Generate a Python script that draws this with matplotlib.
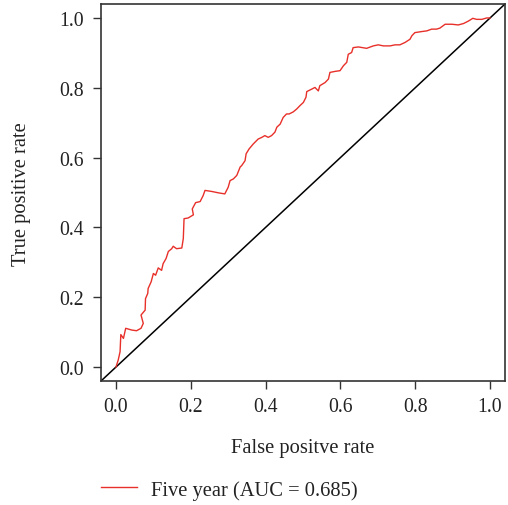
import matplotlib
matplotlib.use("Agg")
import matplotlib.pyplot as plt
from matplotlib.lines import Line2D

plt.rcParams['font.family'] = ['Liberation Serif', 'DejaVu Serif']

fpr = [0.0, 0.006, 0.011, 0.013, 0.020, 0.026, 0.042, 0.055, 0.067, 0.073, 0.067, 0.078,
       0.079, 0.085, 0.086, 0.094, 0.100, 0.106, 0.113, 0.122, 0.126, 0.134, 0.140, 0.149,
       0.153, 0.162, 0.176, 0.180, 0.182, 0.193, 0.207, 0.204, 0.213, 0.225, 0.233, 0.238,
       0.256, 0.274, 0.291, 0.300, 0.305, 0.314, 0.323, 0.332, 0.336, 0.345, 0.348, 0.356,
       0.367, 0.380, 0.390, 0.398, 0.407, 0.416, 0.425, 0.430, 0.439, 0.447, 0.456, 0.463,
       0.474, 0.483, 0.492, 0.501, 0.508, 0.510, 0.523, 0.532, 0.541, 0.545, 0.559, 0.568,
       0.572, 0.586, 0.599, 0.608, 0.617, 0.621, 0.630, 0.634, 0.648, 0.670, 0.688, 0.701,
       0.715, 0.733, 0.746, 0.759, 0.773, 0.786, 0.791, 0.799, 0.817, 0.831, 0.844, 0.857,
       0.866, 0.880, 0.898, 0.915, 0.929, 0.942, 0.954, 0.964, 0.978, 0.991, 1.0]
tpr = [0.0, 0.020, 0.044, 0.093, 0.082, 0.111, 0.106, 0.104, 0.111, 0.125, 0.149, 0.163,
       0.196, 0.211, 0.225, 0.244, 0.268, 0.263, 0.284, 0.277, 0.296, 0.311, 0.331, 0.339,
       0.346, 0.339, 0.341, 0.368, 0.425, 0.427, 0.436, 0.453, 0.471, 0.474, 0.491, 0.506,
       0.503, 0.499, 0.496, 0.515, 0.534, 0.539, 0.549, 0.573, 0.577, 0.591, 0.611, 0.625,
       0.639, 0.653, 0.658, 0.663, 0.658, 0.663, 0.673, 0.687, 0.696, 0.715, 0.725, 0.725,
       0.731, 0.739, 0.749, 0.758, 0.773, 0.789, 0.796, 0.801, 0.791, 0.806, 0.815, 0.825,
       0.844, 0.847, 0.849, 0.863, 0.873, 0.896, 0.901, 0.915, 0.917, 0.913, 0.920, 0.923,
       0.920, 0.920, 0.923, 0.923, 0.930, 0.939, 0.949, 0.958, 0.961, 0.963, 0.968, 0.968,
       0.971, 0.982, 0.982, 0.980, 0.984, 0.991, 0.999, 0.996, 0.996, 1.0, 1.0]

ticks = [0.0, 0.2, 0.4, 0.6, 0.8, 1.0]
tick_labels = ["0.0", "0.2", "0.4", "0.6", "0.8", "1.0"]
legend_label = "Five year (AUC = 0.685)"
red = "#E8302A"

fig = plt.figure(figsize=(5.08, 5.06), dpi=100)
ax = fig.add_axes([101/508, 1-382/506, 404/508, 377/506])

ax.set_xlim(-0.04, 1.04)
ax.set_ylim(-0.04, 1.04)
ax.axline((0, 0), (1, 1), color="black", lw=1.1)
line, = ax.plot(fpr, tpr, color=red, lw=1.0)

for s in ax.spines.values():
    s.set_color("#333333")
    s.set_linewidth(1.2)
ax.set_xticks(ticks)
ax.set_xticklabels(tick_labels)
ax.set_yticks(ticks)
ax.set_yticklabels(tick_labels)
ax.tick_params(axis='both', direction='out', length=5.5, width=1.0, color="#333333",
               labelsize=14.2, labelcolor="#222222")
ax.tick_params(axis='x', pad=6)
ax.tick_params(axis='y', pad=7)

fig.text(303/508, 1-449/506, "False positve rate", ha="center", va="center", fontsize=14.8, color="#222222")
fig.text(22/508, 1-194/506, "True positive rate", ha="center", va="center", rotation=90, fontsize=14.8, color="#222222")

handle = Line2D([], [], color=red, lw=1.0)
fig.legend(handles=[handle], labels=[legend_label], loc="center left",
           bbox_to_anchor=(101/508, 1-490.7/506), frameon=False, fontsize=14.8,
           handlelength=1.75, handletextpad=0.7, borderpad=0, borderaxespad=0,
           labelcolor="#222222")

fig.savefig("out.png", dpi=100)
